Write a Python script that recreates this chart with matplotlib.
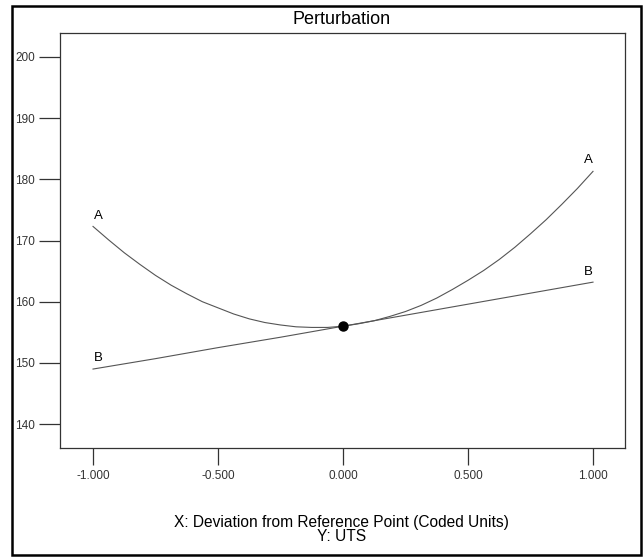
import matplotlib
matplotlib.use("Agg")
import matplotlib.pyplot as plt
from matplotlib.patches import Rectangle

plt.rcParams["font.family"] = ["Liberation Sans", "DejaVu Sans"]

# ── values ───────────────────────────────────────────────────────────────────
x_a = [-1.0, -0.9375, -0.875, -0.8125, -0.75, -0.6875, -0.625, -0.5625, -0.5,
       -0.4375, -0.375, -0.3125, -0.25, -0.1875, -0.125, -0.0625, 0.0,
       0.0625, 0.125, 0.1875, 0.25, 0.3125, 0.375, 0.4375, 0.5,
       0.5625, 0.625, 0.6875, 0.75, 0.8125, 0.875, 0.9375, 1.0]
y_a = [172.3, 170.1, 168.0, 166.1, 164.3, 162.7, 161.3, 160.0, 159.0,
       158.0, 157.2, 156.6, 156.2, 155.9, 155.8, 155.8, 156.0,
       156.4, 156.9, 157.6, 158.4, 159.4, 160.6, 162.0, 163.5,
       165.1, 166.9, 168.9, 171.1, 173.4, 175.9, 178.5, 181.3]

x_b = [-1.0, -0.75, -0.5, -0.25, 0.0, 0.25, 0.5, 0.75, 1.0]
y_b = [149.0, 150.7, 152.5, 154.2, 156.0, 157.8, 159.6, 161.4, 163.2]

ref_x, ref_y = 0.0, 156.1

x_ticks = [-1.0, -0.5, 0.0, 0.5, 1.0]
x_tick_labels = ["-1.000", "-0.500", "0.000", "0.500", "1.000"]
y_ticks = [140, 150, 160, 170, 180, 190, 200]

fig = plt.figure(figsize=(6.44, 5.6), dpi=100)
fig.patch.set_facecolor("white")
fig.patches.append(Rectangle((0.0179, 0.009), 0.9774, 0.981, transform=fig.transFigure,
                             fill=False, edgecolor="black", lw=1.8))

ax = fig.add_axes([0.0932, 0.2, 0.8773, 0.741])
line_col = "#555555"
ax.plot(x_a, y_a, color=line_col, lw=0.8)
ax.plot(x_b, y_b, color=line_col, lw=0.8)
ax.plot([ref_x], [ref_y], "o", color="black", ms=6.5)

lab = dict(fontsize=9.5, ha="center", va="center", color="black")
ax.text(-0.98, 174.0, "A", **lab)
ax.text(0.98, 183.2, "A", **lab)
ax.text(-0.98, 150.8, "B", **lab)
ax.text(0.98, 164.9, "B", **lab)

ax.set_xlim(-1.132, 1.128)
ax.set_ylim(136.1, 203.9)
ax.set_xticks(x_ticks)
ax.set_xticklabels(x_tick_labels)
ax.set_yticks(y_ticks)
for s in ax.spines.values():
    s.set_color("#333333")
    s.set_linewidth(0.9)
ax.tick_params(axis="y", length=15, width=0.9, color="#333333",
               labelsize=8.5, labelcolor="#333333", pad=3)
ax.tick_params(axis="x", length=12, width=0.9, color="#333333",
               labelsize=8.5, labelcolor="#333333", pad=4)

fig.text(0.53, 0.965, "Perturbation", fontsize=13, ha="center", va="center")
fig.text(0.53, 0.067, "X: Deviation from Reference Point (Coded Units)",
         fontsize=11.2, ha="center", va="center")
fig.text(0.53, 0.042, "Y: UTS", fontsize=11.2, ha="center", va="center")

fig.savefig("out.png", dpi=100)
